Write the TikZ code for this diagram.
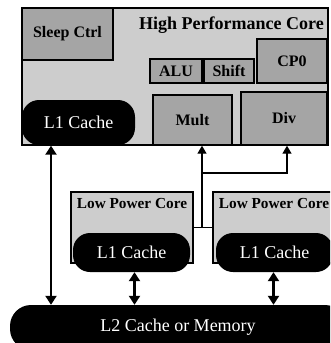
\documentclass[tikz,border=0pt]{standalone}
\usepackage{fontspec}
\setmainfont{Liberation Serif}
\usetikzlibrary{positioning,arrows.meta}
\definecolor{CoreGray}{RGB}{205,205,205}
\definecolor{UnitGray}{RGB}{165,165,165}
\tikzset{
  core/.style={draw=black,fill=CoreGray,line width=1.4pt,inner sep=0pt},
  unit/.style={draw=black,fill=UnitGray,line width=1.4pt,inner sep=0pt,
    font=\fontsize{16}{16}\selectfont\bfseries},
  cache/.style={fill=black,text=white,rounded corners=17pt,inner sep=0pt,
    font=\fontsize{18}{18}\selectfont},
  ttl/.style={inner sep=0pt,font=\fontsize{15.3}{15.3}\selectfont\bfseries},
}
\tikzset{dbl/.style={line width=2.8pt,{Triangle[length=9pt,width=11pt]}-{Triangle[length=9pt,width=11pt]}},
  link/.style={line width=1.4pt}, tip/.style={link,-{Triangle[length=8pt,width=9pt]}}}

\begin{document}
\begin{tikzpicture}[x=1pt,y=-1pt]
\useasboundingbox (0,0) rectangle (330,343);
\clip (0,0) rectangle (330,343);
% high performance core
\node[core,minimum width=306,minimum height=137] (hp) at (175,76.5) {};
\node[ttl,anchor=base,font=\fontsize{18}{18}\selectfont\bfseries] (hptitle) at (231.5,29) {High Performance Core};
\node[unit,minimum width=91,minimum height=52] (sleep) at (67.5,34) {Sleep Ctrl};
\node[unit,minimum width=52,minimum height=24] (alu) at (176,71) {ALU};
\node[unit,minimum width=50,minimum height=24] (shift) at (229,71) {Shift};
\node[unit,minimum width=70,minimum height=44] (cpz) at (292,61) {CP0};
\node[unit,minimum width=79,minimum height=50] (mult) at (192.5,120) {Mult};
\node[unit,minimum width=86,minimum height=53] (div) at (284,118.5) {Div};
\node[cache,minimum width=113,minimum height=45] (hpl1) at (78.5,122.5) {L1 Cache};
% low power cores
\node[core,minimum width=122,minimum height=71] (lpa) at (132,227.5) {};
\node[ttl,anchor=base] (lpatitle) at ([yshift=-17pt]lpa.north) {Low Power Core};
\node[cache,minimum width=117,minimum height=39] (lpal1) at (131.5,252.5) {L1 Cache};
\node[core,minimum width=122,minimum height=71] (lpb) at (274,227.5) {};
\node[ttl,anchor=base] (lpbtitle) at ([yshift=-17pt]lpb.north) {Low Power Core};
\node[cache,minimum width=117,minimum height=39] (lpbl1) at (274.5,252.5) {L1 Cache};
% memory
\node[cache,rounded corners=21pt,minimum width=336,minimum height=45] (ltwo) at (178,327.5) {L2 Cache or Memory};
% connections
\coordinate (lx) at (51,0);
\coordinate (j1) at (202,227.5);
\coordinate (j2) at (202,173);
\coordinate (j3) at (287,173);
\draw[dbl] (hp.south -| lx) -- (ltwo.north -| lx);
\draw[dbl] ([xshift=3pt]lpal1.south) -- ([xshift=3pt]lpal1.south |- ltwo.north);
\draw[dbl] ([xshift=-1pt]lpbl1.south) -- ([xshift=-1pt]lpbl1.south |- ltwo.north);
\draw[link] (lpa) -- (lpb);
\draw[tip] (j1) -- (j1 |- mult.south);
\draw[tip] (j2) -- (j3) -- (j3 |- div.south);
\end{tikzpicture}
\end{document}
